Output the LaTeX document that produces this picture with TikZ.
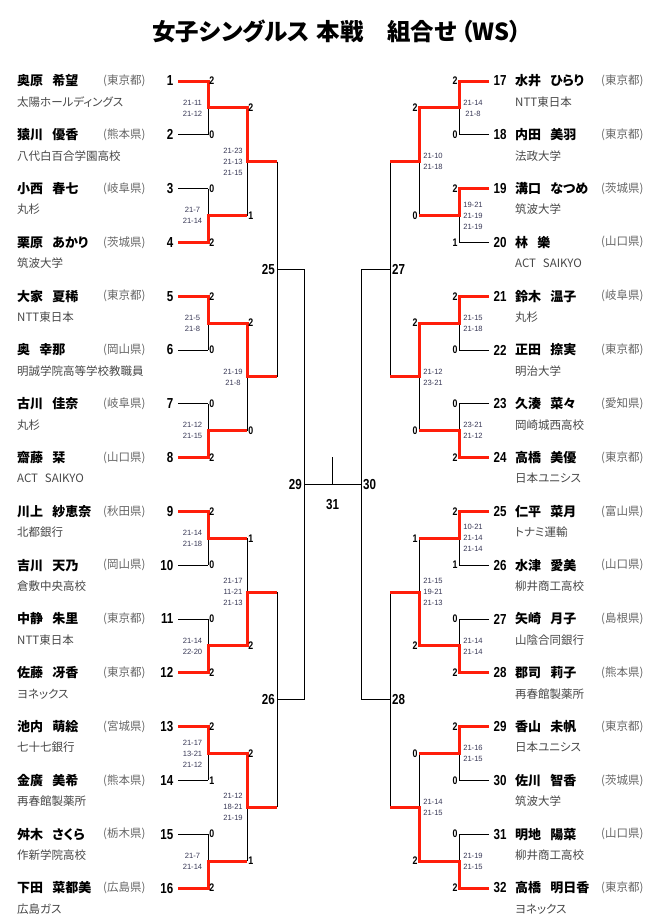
\documentclass[tikz,border=0pt]{standalone}
\usepackage{fontspec}
\setmainfont{Liberation Sans}
\newfontfamily\jp[RawFeature=+palt]{Noto Sans CJK JP}
\newfontfamily\numfont[FakeStretch=0.8]{Liberation Sans}
\usetikzlibrary{calc}
\definecolor{winred}{RGB}{255,30,10}
\definecolor{gamecol}{RGB}{55,55,85}
\begin{document}
\begin{tikzpicture}[
    x=1pt,y=-1pt,
    wire/.style={draw,line width=0.8pt},
    win/.style={draw=winred,line width=3pt},
    pname/.style={anchor=west,inner sep=0pt,font=\jp\bfseries\fontsize{13}{13}\selectfont},
    pref/.style={anchor=west,inner sep=0pt,text=black!60,font=\jp\fontsize{11.5}{11.5}\selectfont},
    affil/.style={anchor=west,inner sep=0pt,text=black!72,font=\jp\fontsize{11.5}{11.5}\selectfont},
    num/.style={inner xsep=4.5pt,inner ysep=0pt,font=\numfont\bfseries\fontsize{14.5}{14.5}\selectfont},
    sc/.style={inner xsep=1.2pt,inner ysep=0pt,font=\numfont\bfseries\fontsize{11}{11}\selectfont},
    games/.style={align=center,inner sep=0pt,text=gamecol,font=\fontsize{7.6}{11}\selectfont},
  ]
  \useasboundingbox (0,0) rectangle (666,918);
  \node[font=\jp\bfseries\fontsize{23.5}{23.5}\selectfont] (title) at (337,31) {女子シングルス\hspace{.3em}本戦\hspace{1em}組合せ\hspace{.2em}（WS）};

  \foreach \i/\nm/\pf/\af in {1/奥原\hspace{.7em}希望/東京都/太陽ホールディングス,
      2/猿川\hspace{.7em}優香/熊本県/八代白百合学園高校,
      3/小西\hspace{.7em}春七/岐阜県/丸杉,
      4/栗原\hspace{.7em}あかり/茨城県/筑波大学,
      5/大家\hspace{.7em}夏稀/東京都/NTT東日本,
      6/奥\hspace{.7em}幸那/岡山県/明誠学院高等学校教職員,
      7/古川\hspace{.7em}佳奈/岐阜県/丸杉,
      8/齋藤\hspace{.7em}栞/山口県/ACT\hspace{.6em}SAIKYO,
      9/川上\hspace{.7em}紗恵奈/秋田県/北都銀行,
      10/吉川\hspace{.7em}天乃/岡山県/倉敷中央高校,
      11/中静\hspace{.7em}朱里/東京都/NTT東日本,
      12/佐藤\hspace{.7em}冴香/東京都/ヨネックス,
      13/池内\hspace{.7em}萌絵/宮城県/七十七銀行,
      14/金廣\hspace{.7em}美希/熊本県/再春館製薬所,
      15/舛木\hspace{.7em}さくら/栃木県/作新学院高校,
      16/下田\hspace{.7em}菜都美/広島県/広島ガス}{
    \pgfmathsetmacro\yy{81+(\i-1)*53.8}
    \node[pname] (nm\i) at (17,\yy) {\nm};
    \node[pref] (pf\i) at (103,\yy) {(\pf)};
    \node[affil] (af\i) at (17,\yy+21) {\af};
    \node[num,anchor=east] (n\i) at (178,\yy) {\i};
    \coordinate (ja\i) at (208,\yy);
    \draw[wire] (n\i.east) -- (ja\i);
  }
  \foreach \i/\nm/\pf/\af in {17/水井\hspace{.7em}ひらり/東京都/NTT東日本,
      18/内田\hspace{.7em}美羽/東京都/法政大学,
      19/溝口\hspace{.7em}なつめ/茨城県/筑波大学,
      20/林\hspace{.7em}樂/山口県/ACT\hspace{.6em}SAIKYO,
      21/鈴木\hspace{.7em}温子/岐阜県/丸杉,
      22/正田\hspace{.7em}捺実/東京都/明治大学,
      23/久湊\hspace{.7em}菜々/愛知県/岡崎城西高校,
      24/高橋\hspace{.7em}美優/東京都/日本ユニシス,
      25/仁平\hspace{.7em}菜月/富山県/トナミ運輸,
      26/水津\hspace{.7em}愛美/山口県/柳井商工高校,
      27/矢崎\hspace{.7em}月子/島根県/山陰合同銀行,
      28/郡司\hspace{.7em}莉子/熊本県/再春館製薬所,
      29/香山\hspace{.7em}未帆/東京都/日本ユニシス,
      30/佐川\hspace{.7em}智香/茨城県/筑波大学,
      31/明地\hspace{.7em}陽菜/山口県/柳井商工高校,
      32/高橋\hspace{.7em}明日香/東京都/ヨネックス}{
    \pgfmathsetmacro\yy{81+(\i-17)*53.8}
    \node[pname] (nm\i) at (515,\yy) {\nm};
    \node[pref] (pf\i) at (601,\yy) {(\pf)};
    \node[affil] (af\i) at (515,\yy+21) {\af};
    \node[num,anchor=west] (n\i) at (489,\yy) {\i};
    \coordinate (ja\i) at (459,\yy);
    \draw[wire] (n\i.west) -- (ja\i);
  }

  \foreach \m in {1,...,16}{
    \pgfmathtruncatemacro\pa{2*\m-1}
    \pgfmathtruncatemacro\pb{2*\m}
    \pgfmathsetmacro\dx{\m<9 ? 39 : -40}
    \coordinate (ma\m) at ($(ja\pa)!.5!(ja\pb)$);
    \coordinate (jb\m) at ($(ma\m)+(\dx,0)$);
    \draw[wire] (ja\pa) -- (ja\pb) (ma\m) -- (jb\m);
  }
  \foreach \k in {1,...,8}{
    \pgfmathtruncatemacro\pa{2*\k-1}
    \pgfmathtruncatemacro\pb{2*\k}
    \pgfmathsetmacro\dx{\k<5 ? 30 : -29}
    \coordinate (mb\k) at ($(jb\pa)!.5!(jb\pb)$);
    \coordinate (jc\k) at ($(mb\k)+(\dx,0)$);
    \draw[wire] (jb\pa) -- (jb\pb) (mb\k) -- (jc\k);
  }
  \foreach \s in {1,...,4}{
    \pgfmathtruncatemacro\pa{2*\s-1}
    \pgfmathtruncatemacro\pb{2*\s}
    \pgfmathsetmacro\dx{\s<3 ? 27 : -29}
    \coordinate (mc\s) at ($(jc\pa)!.5!(jc\pb)$);
    \coordinate (jd\s) at ($(mc\s)+(\dx,0)$);
    \draw[wire] (jc\pa) -- (jc\pb) (mc\s) -- (jd\s);
  }
  \coordinate (md1) at ($(jd1)!.5!(jd2)$);
  \coordinate (md2) at ($(jd3)!.5!(jd4)$);
  \coordinate (fin) at ($(md1)!.5!(md2)$);
  \coordinate (fintop) at ($(fin)+(0,-28)$);
  \draw[wire] (jd1) -- (jd2) (jd3) -- (jd4) (md1) -- (md2);
  \draw[wire] (fin) -- (fintop);

  \foreach \w/\m in {1/1,4/2,5/3,8/4,9/5,12/6,13/7,16/8}
    \draw[win] (n\w.east) -- (ja\w) -- (ma\m) -- (jb\m);
  \foreach \w/\m in {17/9,19/10,21/11,24/12,25/13,28/14,29/15,32/16}
    \draw[win] (n\w.west) -- (ja\w) -- (ma\m) -- (jb\m);
  \foreach \w/\k in {1/1,3/2,6/3,7/4,9/5,11/6,14/7,16/8}
    \draw[win] (ma\w) -- (jb\w) -- (mb\k) -- (jc\k);

  \foreach \i/\s in {1/2,2/0,3/0,4/2,5/2,6/0,7/0,8/2,9/2,10/0,11/0,12/2,13/2,14/1,15/0,16/2}
    \node[sc,anchor=west] (sa\i) at (ja\i) {\s};
  \foreach \i/\s in {17/2,18/0,19/2,20/1,21/2,22/0,23/0,24/2,25/2,26/1,27/0,28/2,29/2,30/0,31/0,32/2}
    \node[sc,anchor=east] (sa\i) at (ja\i) {\s};
  \foreach \m/\s in {1/2,2/1,3/2,4/0,5/1,6/2,7/2,8/1}
    \node[sc,anchor=west] (sb\m) at (jb\m) {\s};
  \foreach \m/\s in {9/2,10/0,11/2,12/0,13/1,14/2,15/0,16/2}
    \node[sc,anchor=east] (sb\m) at (jb\m) {\s};

  \foreach \m/\g in {1/{21-11\\21-12},2/{21-7\\21-14},3/{21-5\\21-8},4/{21-12\\21-15},
      5/{21-14\\21-18},6/{21-14\\22-20},7/{21-17\\13-21\\21-12},8/{21-7\\21-14}}
    \node[games] (ga\m) at ($(ma\m)+(-15.5,0)$) {\g};
  \foreach \m/\g in {9/{21-14\\21-8},10/{19-21\\21-19\\21-19},11/{21-15\\21-18},12/{23-21\\21-12},
      13/{10-21\\21-14\\21-14},14/{21-14\\21-14},15/{21-16\\21-15},16/{21-19\\21-15}}
    \node[games] (ga\m) at ($(ma\m)+(14,0)$) {\g};
  \foreach \k/\g in {1/{21-23\\21-13\\21-15},2/{21-19\\21-8},3/{21-17\\11-21\\21-13},4/{21-12\\18-21\\21-19}}
    \node[games] (gb\k) at ($(mb\k)+(-14,0)$) {\g};
  \foreach \k/\g in {5/{21-10\\21-18},6/{21-12\\23-21},7/{21-15\\19-21\\21-13},8/{21-14\\21-15}}
    \node[games] (gb\k) at ($(mb\k)+(14,0)$) {\g};

  \node[num,anchor=east,inner xsep=2pt] (r25) at (mc1) {25};
  \node[num,anchor=east,inner xsep=2pt] (r26) at (mc2) {26};
  \node[num,anchor=west,inner xsep=2pt] (r27) at (mc3) {27};
  \node[num,anchor=west,inner xsep=2pt] (r28) at (mc4) {28};
  \node[num,anchor=east,inner xsep=2pt] (r29) at (md1) {29};
  \node[num,anchor=west,inner xsep=2pt] (r30) at (md2) {30};
  \node[num] (r31) at ($(fin)+(0,20)$) {31};
\end{tikzpicture}
\end{document}
